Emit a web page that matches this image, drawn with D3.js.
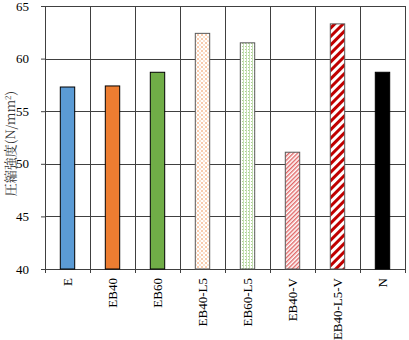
<!DOCTYPE html>
<html>
<head>
<meta charset="utf-8">
<script src="https://cdn.jsdelivr.net/npm/d3@7"></script>
<style>
  body { margin: 0; background: #fff; }
  .tick text { font-family: "Liberation Serif", "Times New Roman", serif; font-size: 13px; fill: #000; }
</style>
</head>
<body>
<div id="chart"></div>
<script>
// chart data
var categories = ["E", "EB40", "EB60", "EB40-L5", "EB60-L5", "EB40-V", "EB40-L5-V", "N"];
var strength = [57.3, 57.4, 58.7, 62.4, 61.5, 51.1, 63.3, 58.7];
var yTicks = [40, 45, 50, 55, 60, 65];
var fills = ["#5b9bd5", "#ed7d31", "#70ad47", "url(#dotOrange)", "url(#dotGreen)", "url(#fineRed)", "url(#wideRed)", "#000000"];

var svgWidth = 409;
var svgHeight = 340;
var margin = { top: 6, right: 4, bottom: 71, left: 45 };
var width = svgWidth - margin.left - margin.right;
var height = svgHeight - margin.top - margin.bottom;

var svg = d3.select("#chart")
  .append("svg")
  .attr("width", svgWidth)
  .attr("height", svgHeight);

// patterns for the hatched bars
var defs = svg.append("defs");

var p1 = defs.append("pattern")
  .attr("id", "dotOrange")
  .attr("patternUnits", "userSpaceOnUse")
  .attr("width", 4).attr("height", 4);
p1.append("rect").attr("width", 4).attr("height", 4).attr("fill", "#fff");
p1.append("rect").attr("width", 2).attr("height", 2).attr("fill", "#f8cbad");
p1.append("rect").attr("x", 2).attr("y", 2).attr("width", 2).attr("height", 2).attr("fill", "#fbe0cd");

var p2 = defs.append("pattern")
  .attr("id", "dotGreen")
  .attr("patternUnits", "userSpaceOnUse")
  .attr("width", 3).attr("height", 3);
p2.append("rect").attr("width", 3).attr("height", 3).attr("fill", "#fff");
p2.append("rect").attr("width", 1).attr("height", 3).attr("fill", "#c5e0b4");
p2.append("rect").attr("x", 2).attr("y", 1).attr("width", 1).attr("height", 1).attr("fill", "#a9d18e");

var p3 = defs.append("pattern")
  .attr("id", "fineRed")
  .attr("patternUnits", "userSpaceOnUse")
  .attr("width", 3).attr("height", 3)
  .attr("patternTransform", "rotate(45)");
p3.append("rect").attr("width", 3).attr("height", 3).attr("fill", "#fff");
p3.append("rect").attr("width", 1.4).attr("height", 3).attr("fill", "#e06666");

var p4 = defs.append("pattern")
  .attr("id", "wideRed")
  .attr("patternUnits", "userSpaceOnUse")
  .attr("width", 6).attr("height", 6)
  .attr("patternTransform", "rotate(45)");
p4.append("rect").attr("width", 6).attr("height", 6).attr("fill", "#fff");
p4.append("rect").attr("width", 3).attr("height", 6).attr("fill", "#c00000");

var chartGroup = svg.append("g")
  .attr("transform", `translate(${margin.left}, ${margin.top})`);

// scales
var xScale = d3.scaleBand()
  .domain(categories)
  .range([0, width])
  .paddingInner(0)
  .paddingOuter(0);

var yScale = d3.scaleLinear()
  .domain([40, 65])
  .range([height, 0]);

// horizontal gridlines
chartGroup.selectAll(".hgrid")
  .data(yTicks)
  .enter()
  .append("line")
  .attr("x1", 0)
  .attr("x2", width)
  .attr("y1", d => Math.round(yScale(d)) + 0.5)
  .attr("y2", d => Math.round(yScale(d)) + 0.5)
  .attr("stroke", "#404040")
  .attr("stroke-width", 1);

// vertical gridlines at category boundaries
var bounds = categories.map(c => xScale(c)).concat([width]);
chartGroup.selectAll(".vgrid")
  .data(bounds)
  .enter()
  .append("line")
  .attr("x1", d => Math.round(d) + 0.5)
  .attr("x2", d => Math.round(d) + 0.5)
  .attr("y1", 0)
  .attr("y2", height + 4)
  .attr("stroke", "#404040")
  .attr("stroke-width", 1);

// bars
var barW = xScale.bandwidth() * 0.32;
chartGroup.selectAll(".bar")
  .data(categories)
  .enter()
  .append("rect")
  .attr("x", (d, i) => xScale(d) + (xScale.bandwidth() - barW) / 2)
  .attr("y", (d, i) => yScale(strength[i]))
  .attr("width", barW)
  .attr("height", (d, i) => height - yScale(strength[i]))
  .attr("fill", (d, i) => fills[i])
  .attr("stroke", (d, i) => i >= 3 && i <= 6 ? "#595959" : "#000")
  .attr("stroke-width", 1);

// y axis
var leftAxis = d3.axisLeft(yScale)
  .tickValues(yTicks)
  .tickSize(4)
  .tickPadding(12);

var yAxis = chartGroup.append("g").call(leftAxis);
yAxis.select(".domain").attr("stroke", "#404040");
yAxis.selectAll(".tick line").attr("stroke", "#404040");

// x labels
chartGroup.selectAll(".xlabel")
  .data(categories)
  .enter()
  .append("text")
  .attr("transform", d => `translate(${xScale(d) + xScale.bandwidth() / 2}, ${height + 9}) rotate(-90)`)
  .attr("dy", "0.35em")
  .attr("text-anchor", "end")
  .style("font-family", '"Liberation Serif", "Times New Roman", serif')
  .style("font-size", "13px")
  .text(d => d);

// y axis title
svg.append("text")
  .attr("transform", `translate(10, ${margin.top + height / 2 + 6}) rotate(-90)`)
  .attr("text-anchor", "middle")
  .attr("dy", "0.35em")
  .style("font-family", '"Noto Serif CJK JP", "Noto Sans CJK JP", serif')
  .style("font-size", "13px")
  .style("fill", "#333")
  .html('圧縮強度(N/mm<tspan dy="-4" font-size="8">2</tspan><tspan dy="4">)</tspan>');
</script>
</body>
</html>
